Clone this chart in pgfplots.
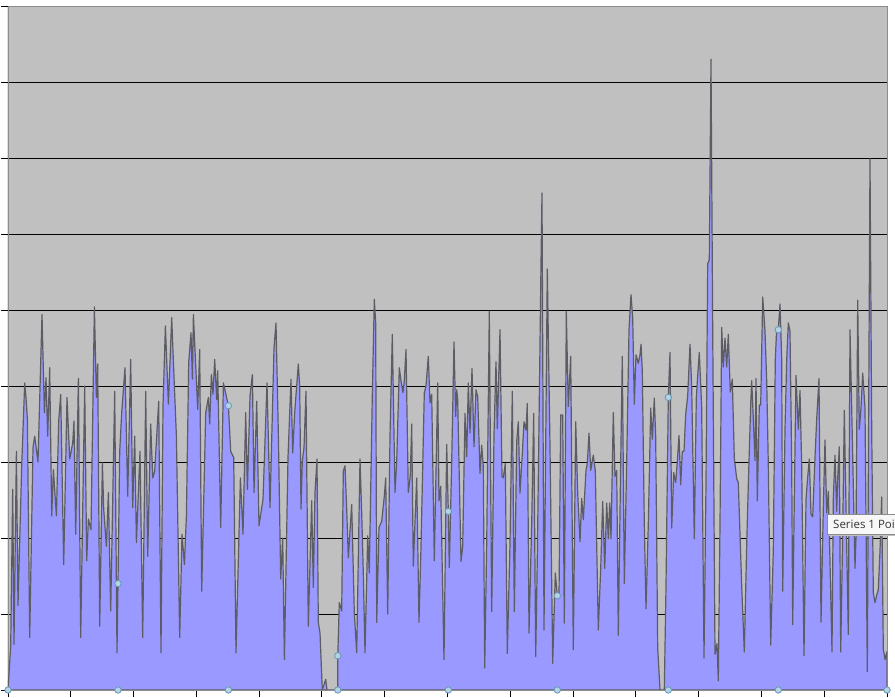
\documentclass[border=0pt]{standalone}
\usepackage{pgfplots}
\usepackage{pgfplotstable}
\pgfplotsset{compat=1.18}
\usepackage{fontspec}
\setmainfont{Open Sans}

\definecolor{plotbg}{RGB}{192,192,192}
\definecolor{areafill}{RGB}{153,153,255}
\definecolor{areaedge}{RGB}{92,92,100}
\definecolor{boxgray}{RGB}{140,140,140}
\definecolor{handle}{RGB}{178,212,230}
\definecolor{handleedge}{RGB}{105,150,180}

% x in pixels from the left axis, y in gridline units (10 per gridline)
\pgfplotstableread{
x y
0 0
2.7 5.8
4.7 26.4
6.0 6.0
8.4 31.4
10.0 11.1
13.7 29.5
16.7 40.4
18.0 38.5
19.4 35.6
21.7 6.9
25.0 31.9
26.7 33.4
30.0 30.0
34.0 49.4
36.4 36.5
38.0 41.1
39.7 33.4
41.7 42.4
43.7 22.9
45.4 29.0
48.4 22.9
50.7 35.4
52.7 38.9
55.7 16.5
59.0 38.5
61.7 30.4
64.7 32.5
66.0 35.4
67.7 20.5
70.4 41.0
72.7 6.9
76.7 40.0
78.7 17.0
80.4 22.5
83.0 21.1
86.4 50.4
88.4 38.5
89.7 42.9
91.7 8.4
94.4 29.9
95.7 23.8
98.4 18.9
100.4 26.0
102.7 10.4
106.7 39.3
109.0 4.9
110.0 14.0
111.7 31.4
113.7 36.5
117.0 42.4
119.7 25.5
122.7 43.5
124.7 24.0
126.7 33.4
128.4 19.4
132.0 31.4
134.7 6.9
137.7 39.3
139.7 17.6
142.7 35.0
144.7 27.9
146.7 28.8
150.7 38.0
153.0 4.9
155.0 37.4
157.4 47.9
160.4 37.6
163.7 49.0
165.7 42.2
168.4 33.4
171.7 6.9
174.0 20.5
176.4 16.5
178.4 22.9
180.7 43.1
183.0 47.0
184.4 40.9
185.4 49.4
189.7 36.9
191.7 44.8
193.7 13.0
197.7 36.5
200.4 38.5
201.7 35.0
203.4 41.5
205.0 38.9
206.7 43.5
208.7 38.2
209.7 42.0
212.7 21.4
215.4 40.4
220.4 37.4
222.7 31.4
225.7 30.6
228.0 4.9
232.4 27.9
235.0 20.5
237.7 36.5
239.4 26.4
242.0 38.7
244.4 41.5
246.0 26.0
248.7 38.0
251.0 21.6
255.0 25.1
259.0 40.4
262.0 24.0
266.0 45.0
268.0 48.3
270.4 33.4
272.7 14.6
274.7 20.0
276.4 4.0
280.0 30.6
283.0 40.9
284.7 31.2
286.7 36.5
290.3 42.9
291.7 40.0
293.0 23.8
294.3 30.1
296.0 31.9
298.0 39.3
300.3 8.4
303.7 24.9
305.3 13.5
307.0 26.0
309.0 30.4
310.3 8.9
312.0 7.5
314.3 0
317.7 1.4
319.0 0
329.7 0
329.8 4.5
331.3 11.5
333.7 10.4
335.3 28.8
337.0 29.5
338.7 23.8
340.3 17.4
343.7 24.4
346.3 10.2
348.7 4.9
352.0 30.4
353.7 23.3
355.3 15.4
357.0 4.9
359.7 20.3
361.3 15.4
364.3 38.7
366.3 51.4
367.7 48.3
368.7 8.9
371.0 21.4
373.7 22.2
376.3 25.5
377.7 27.9
379.7 10.0
382.0 33.4
384.3 46.8
387.0 26.0
388.7 30.1
391.3 42.4
393.0 40.7
395.0 39.1
396.3 40.7
398.0 44.8
400.3 26.0
402.3 28.2
403.7 35.0
405.3 16.3
408.7 27.9
411.0 8.9
413.0 18.9
416.3 39.1
418.0 40.0
420.3 43.9
422.0 37.8
423.7 38.9
426.3 17.0
429.7 40.4
431.0 24.9
432.7 26.8
436.0 4.0
438.7 32.3
440.3 23.5
441.3 16.1
443.7 30.1
446.0 45.8
447.7 36.0
448.7 39.5
449.7 38.2
453.0 16.9
454.7 18.9
457.0 36.4
458.7 30.7
460.3 40.4
462.0 33.8
464.0 42.3
466.0 32.0
468.0 39.5
469.7 38.6
472.0 28.5
473.7 32.2
475.3 29.4
476.7 2.9
478.7 19.3
481.3 49.8
483.7 10.3
486.0 33.6
488.0 43.2
489.3 34.4
492.0 47.4
494.0 28.1
495.3 27.9
497.3 29.8
499.3 4.8
502.0 19.3
504.3 39.3
506.3 10.3
508.7 32.7
510.3 35.3
512.0 25.9
514.3 31.1
516.0 35.3
518.0 34.2
519.3 37.7
521.0 7.5
523.7 21.9
525.7 36.4
527.7 4.4
529.3 17.3
531.3 38.2
533.0 56.1
534.0 65.4
536.0 7.9
539.3 55.4
542.0 32.0
544.7 3.5
547.3 15.4
549.3 12.4
551.0 12.3
552.7 36.2
554.7 36.2
556.3 8.8
558.3 49.8
560.3 37.3
562.7 43.9
565.3 5.3
567.7 35.3
569.7 25.9
572.0 19.5
573.7 25.2
575.3 22.4
578.0 28.9
579.3 29.8
581.0 33.8
582.7 28.9
585.3 30.9
587.3 28.9
590.3 7.9
592.7 16.0
594.7 24.8
596.7 16.0
598.7 24.6
600.3 19.9
601.7 24.6
603.0 19.9
605.3 36.5
607.0 28.1
608.7 28.9
610.3 7.2
612.7 30.0
614.3 43.9
616.3 14.0
618.7 30.0
621.0 47.4
623.0 52.0
624.7 49.0
626.3 37.6
628.0 44.1
630.3 43.0
632.0 44.1
633.0 45.5
634.3 42.0
636.3 21.8
638.0 10.7
640.3 21.8
642.7 37.1
644.3 33.0
646.3 38.4
647.7 33.3
649.7 5.5
652.0 0
656.3 0
658.0 13.7
660.3 38.5
662.0 44.4
663.7 21.3
665.7 28.6
667.7 27.3
669.3 30.0
671.0 33.5
672.7 27.0
674.3 31.4
676.0 31.4
677.7 36.3
679.7 38.7
682.0 45.5
683.7 39.8
686.3 19.9
688.3 38.4
689.7 41.4
691.3 44.4
693.7 37.1
696.0 4.2
698.0 27.3
699.7 56.1
701.3 56.6
703.0 83.0
704.7 47.4
707.0 4.7
709.0 6.1
710.3 1.2
712.0 21.8
713.7 47.7
715.3 42.5
717.0 46.3
718.7 42.5
720.3 46.8
722.3 39.2
724.3 40.9
726.3 30.5
728.7 27.8
730.3 27.3
733.7 13.7
736.3 5.0
738.7 19.1
740.3 27.0
742.7 37.6
743.7 40.7
745.3 35.7
747.0 30.2
748.0 41.0
749.3 24.9
751.3 37.5
752.7 37.5
754.7 51.7
757.0 47.2
758.7 40.7
760.3 29.7
762.7 5.9
765.3 18.3
767.3 43.5
768.7 47.6
770.3 47.4
772.0 50.8
773.7 43.5
774.7 13.0
777.0 34.3
778.7 43.5
780.3 48.3
782.0 47.2
783.7 29.7
784.7 8.6
786.3 25.1
788.0 41.4
790.3 34.3
792.0 39.4
793.7 29.3
796.0 4.5
798.0 25.1
799.3 27.4
801.3 30.4
803.0 23.1
804.7 22.8
807.0 30.6
808.7 35.7
811.0 41.0
813.0 8.9
815.3 23.8
817.0 32.9
818.7 23.3
820.3 26.1
822.0 16.9
824.0 5.0
825.3 25.1
827.0 30.9
828.7 23.5
829.7 27.9
831.3 32.0
832.7 5.0
834.7 20.6
836.3 36.8
838.3 21.9
840.3 7.3
842.0 47.4
843.7 37.1
847.0 16.0
848.0 20.1
849.7 51.3
851.3 34.3
853.0 37.1
854.7 41.7
857.0 37.1
859.3 2.4
862.0 69.9
863.7 34.3
865.3 12.8
867.0 11.5
868.7 12.5
870.3 13.2
872.0 18.3
873.7 25.4
875.3 5.4
877.0 4.0
878.7 5.0
879.0 3.6
}\seriesone

\begin{document}
\begin{tikzpicture}
\useasboundingbox (0,0) rectangle (895pt,698pt);
\fill[white] (0,0) rectangle (895pt,698pt);
\begin{axis}[
    at={(8pt,8pt)}, anchor=south west,
    scale only axis,
    width=879pt, height=684pt,
    xmin=0, xmax=879, ymin=0, ymax=90,
    axis background/.style={fill=plotbg},
    axis line style={boxgray, line width=0.8pt},
    ytick={10,20,...,80},
    extra y ticks={0,90},
    extra y tick labels={},
    extra y tick style={grid=none},
    xtick={0,62.79,125.57,188.36,251.14,313.93,376.71,439.5,502.29,565.07,627.86,690.64,753.43,816.21,879},
    xticklabels={}, yticklabels={},
    ymajorgrids,
    grid style={black, line width=0.9pt},
    tick pos=left, tick align=outside,
    major tick length=7pt,
    every tick/.style={black, line width=0.9pt},
]
\addplot[draw=areaedge, line width=1.2pt, fill=areafill, line join=round]
    table[x=x, y=y] {\seriesone} \closedcycle;
\addplot[only marks, mark=*, mark size=3.2pt,
    mark options={fill=handle, draw=handleedge, line width=0.8pt}]
    coordinates {
    (0,0) (110,14.0) (220.4,37.4) (329.8,4.5) (440.3,23.5)
    (549.3,12.4) (660.3,38.5) (770.3,47.4)
    (110,0) (220.4,0) (329.8,0) (440.3,0) (549.3,0) (660.3,0) (770.3,0) (879,0)
    };
\draw[black, line width=1pt] (rel axis cs:0,0) -- (rel axis cs:0,1);
\end{axis}
% hover tooltip, cut by the right edge
\fill[black!25] (829pt,162pt) rectangle (912pt,182pt);
\draw[boxgray, fill=white!94!gray] (827pt,164pt) rectangle (910pt,184pt);
\node[anchor=base west, inner sep=0pt, text=black!80,
    font=\fontsize{11.5}{13}\selectfont] at (833pt,169pt) {Series 1 Point};
\end{tikzpicture}
\end{document}
